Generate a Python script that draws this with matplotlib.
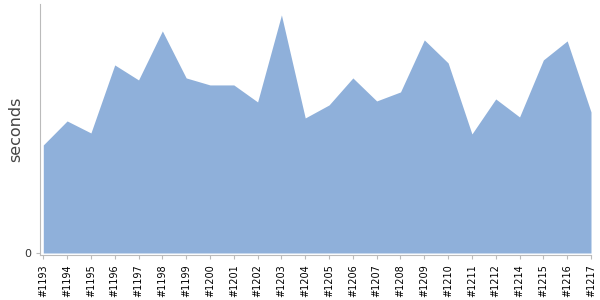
import matplotlib
matplotlib.use('Agg')
import matplotlib.pyplot as plt

builds = ['#1193', '#1194', '#1195', '#1196', '#1197', '#1198', '#1199', '#1200',
          '#1201', '#1202', '#1203', '#1204', '#1205', '#1206', '#1207', '#1208',
          '#1209', '#1210', '#1211', '#1212', '#1214', '#1215', '#1216', '#1217']
seconds = [108, 132, 120, 188, 173, 222, 175, 168,
           168, 151, 238, 135, 148, 175, 152, 161,
           213, 190, 119, 154, 136, 193, 212, 141]

fig = plt.figure(figsize=(6, 3), dpi=100)
ax = fig.add_axes([0.067, 0.15, 0.918, 0.837])

x = list(range(len(builds)))
ax.fill_between(x, 0, seconds, color='#8fb0da', linewidth=0)

ax.set_xlim(-0.13, len(builds) - 1)
ax.set_ylim(-2, 249)
ax.set_xticks(x)
ax.set_xticklabels(builds, rotation=90, fontsize=7)
ax.set_yticks([0])
ax.set_yticklabels(['0'], fontsize=8, color='#333333')
ax.set_ylabel('seconds', fontsize=11.5, color='#444444', labelpad=1)

for side in ['top', 'right']:
    ax.spines[side].set_visible(False)
for side in ['left', 'bottom']:
    ax.spines[side].set_color('#bbbbbb')
ax.tick_params(axis='both', color='#bbbbbb', length=3, width=0.8)

fig.savefig('out.png', dpi=100)
